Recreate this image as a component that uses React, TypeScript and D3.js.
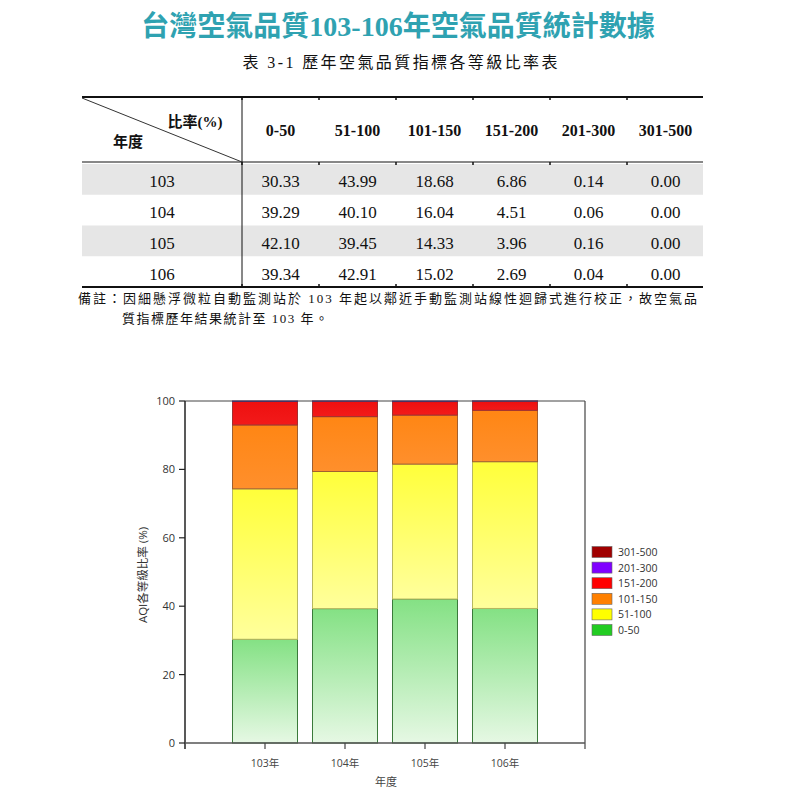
import React from 'react';
import * as d3 from 'd3';

// table + chart data (percent of days per AQI grade)
const years = ['103', '104', '105', '106'];
const grades = ['0-50', '51-100', '101-150', '151-200', '201-300', '301-500'];
const g0_50 = [30.33, 39.29, 42.1, 39.34];
const g51_100 = [43.99, 40.1, 39.45, 42.91];
const g101_150 = [18.68, 16.04, 14.33, 15.02];
const g151_200 = [6.86, 4.51, 3.96, 2.69];
const g201_300 = [0.14, 0.06, 0.16, 0.04];
const g301_500 = [0.0, 0.0, 0.0, 0.0];
const yTicks = [0, 20, 40, 60, 80, 100];

const seriesByGrade = [g0_50, g51_100, g101_150, g151_200, g201_300, g301_500];

const legendColors = ['#22cc22', '#ffff00', '#ff8000', '#ff0000', '#8000ff', '#a00000'];
const gradTop = ['#84e184', '#ffff3a', '#ff8614', '#ee0f0f', '#8000ff', '#a00000'];
const gradBottom = ['#e6f8e4', '#ffff9c', '#ff8f2c', '#f21a1a', '#8000ff', '#a00000'];
const strokes = ['#3a7a3a', '#b8b860', '#a06030', '#a03030', '#502080', '#600000'];

const serif = "'Liberation Serif', 'Noto Sans CJK TC', serif";
const sans = "'Open Sans', 'Noto Sans CJK TC', sans-serif";

const rows = years.map((y, i) => {
  const r: any = { year: y };
  grades.forEach((g, j) => (r[g] = seriesByGrade[j][i]));
  return r;
});

const App = () => {
  // ---- table scales
  const col = d3.scaleBand().domain(grades).range([242, 704]);
  const row = d3.scaleBand().domain(years).range([164, 287]);
  const tblL = 82;
  const tblR = 703;
  const rowText = (yr: string) => (row(yr) as number) + row.bandwidth() / 2 + 8;

  // ---- chart scales
  const x = d3.scalePoint().domain(years).range([185, 585]).padding(1);
  const y = d3.scaleLinear().domain([0, 100]).range([743, 401]);
  const barW = 65;
  const stacked = d3.stack().keys(grades)(rows as any);
  const legendY = d3.scalePoint().domain(grades.slice().reverse()).range([552, 630]);

  return (
    <svg width={800} height={800} style={{ position: 'absolute', left: 0, top: 0, background: '#fff' }}>
      <defs>
        {grades.map((g, i) => (
          <linearGradient key={g} id={`grad${i}`} x1="0" y1="0" x2="0" y2="1">
            <stop offset="0%" stopColor={gradTop[i]} />
            <stop offset="100%" stopColor={gradBottom[i]} />
          </linearGradient>
        ))}
      </defs>

      {/* titles */}
      <text x={398} y={36} textAnchor="middle" fontFamily={serif} fontWeight="bold" fontSize={28} fill="#2fa2b1">
        台灣空氣品質103-106年空氣品質統計數據
      </text>
      <text x={400} y={68} textAnchor="middle" fontFamily={serif} fontSize={16} fill="#111"
        textLength={315} lengthAdjust="spacing">
        表 3-1 歷年空氣品質指標各等級比率表
      </text>

      {/* table */}
      {years.map((yr, i) =>
        i % 2 === 0 ? (
          <rect key={yr} x={tblL} y={row(yr)} width={tblR - tblL} height={row.bandwidth()} fill="#e6e6e6" />
        ) : null
      )}
      <line x1={tblL} x2={tblR} y1={97} y2={97} stroke="#111" strokeWidth={2} />
      <line x1={tblL} x2={tblR} y1={162} y2={162} stroke="#111" strokeWidth={1} />
      <line x1={tblL} x2={tblR} y1={287} y2={287} stroke="#111" strokeWidth={2} />
      <line x1={242} x2={242} y1={97} y2={287} stroke="#111" strokeWidth={1} />
      <line x1={tblL} y1={98} x2={242} y2={162} stroke="#333" strokeWidth={1} />
      {grades.map(g => (
        <g key={g}>
          <line x1={col(g)} x2={col(g)} y1={97} y2={100} stroke="#111" strokeWidth={1.5} />
          <line x1={col(g)} x2={col(g)} y1={162} y2={165} stroke="#111" strokeWidth={1.5} />
          <line x1={col(g)} x2={col(g)} y1={284} y2={287} stroke="#111" strokeWidth={1.5} />
        </g>
      ))}
      <text x={195} y={127} textAnchor="middle" fontFamily={serif} fontWeight="bold" fontSize={15} fill="#111">
        比率(%)
      </text>
      <text x={128} y={147} textAnchor="middle" fontFamily={serif} fontWeight="bold" fontSize={15} fill="#111">
        年度
      </text>
      {grades.map(g => (
        <text key={g} x={(col(g) as number) + col.bandwidth() / 2} y={136} textAnchor="middle"
          fontFamily={serif} fontWeight="bold" fontSize={16} fill="#111">
          {g}
        </text>
      ))}
      {rows.map(r => (
        <g key={r.year}>
          <text x={162} y={rowText(r.year)} textAnchor="middle" fontFamily={serif} fontSize={17} fill="#111">
            {r.year}
          </text>
          {grades.map(g => (
            <text key={g} x={(col(g) as number) + col.bandwidth() / 2} y={rowText(r.year)}
              textAnchor="middle" fontFamily={serif} fontSize={17} fill="#111">
              {r[g].toFixed(2)}
            </text>
          ))}
        </g>
      ))}
      <text x={78} y={303} fontFamily={serif} fontSize={13} fill="#111" textLength={619} lengthAdjust="spacing">
        備註：因細懸浮微粒自動監測站於 103 年起以鄰近手動監測站線性迴歸式進行校正，故空氣品
      </text>
      <text x={122} y={323} fontFamily={serif} fontSize={13} fill="#111" textLength={206} lengthAdjust="spacing">
        質指標歷年結果統計至 103 年。
      </text>

      {/* stacked bars */}
      {stacked.map((s, i) => (
        <g key={s.key}>
          {s.map((d, j) => {
            const h = y(d[0]) - y(d[1]);
            if (h <= 0) return null;
            return (
              <rect key={years[j]} x={(x(years[j]) as number) - barW / 2} y={y(d[1])} width={barW} height={h}
                fill={`url(#grad${i})`} stroke={strokes[i]} strokeWidth={1} />
            );
          })}
        </g>
      ))}

      {/* frame */}
      <line x1={185} x2={585} y1={401} y2={401} stroke="#444" strokeWidth={1} />
      <line x1={585} x2={585} y1={401} y2={749} stroke="#444" strokeWidth={1.2} />

      {/* y axis */}
      <line x1={185} x2={185} y1={401} y2={749} stroke="#222" strokeWidth={1.5} />
      {yTicks.map(t => (
        <g key={t}>
          <line x1={179} x2={185} y1={y(t)} y2={y(t)} stroke="#222" strokeWidth={1.2} />
          <text x={175} y={y(t) + 4} textAnchor="end" fontFamily={sans} fontSize={11} fill="#333">
            {t}
          </text>
        </g>
      ))}
      <text transform="translate(147,575) rotate(-90)" textAnchor="middle" fontFamily={sans} fontSize={11.5} fill="#333">
        AQI各等級比率 (%)
      </text>

      {/* x axis */}
      <line x1={185} x2={585} y1={743} y2={743} stroke="#555" strokeWidth={1.5} />
      {years.map(yr => (
        <g key={yr}>
          <line x1={x(yr)} x2={x(yr)} y1={743} y2={749} stroke="#444" strokeWidth={1.2} />
          <text x={x(yr)} y={767} textAnchor="middle" fontFamily={sans} fontSize={10.5} fill="#444">
            {yr}年
          </text>
        </g>
      ))}
      <text x={386} y={786} textAnchor="middle" fontFamily={sans} fontSize={11} fill="#444">
        年度
      </text>

      {/* legend */}
      {grades.map((g, i) => (
        <g key={g}>
          <rect x={592} y={(legendY(g) as number) - 5.5} width={20} height={11} fill={legendColors[i]} stroke="#666" strokeWidth={0.6} />
          <text x={618} y={(legendY(g) as number) + 4} fontFamily={sans} fontSize={10.5} fill="#333">
            {g}
          </text>
        </g>
      ))}
    </svg>
  );
};

export default App;
